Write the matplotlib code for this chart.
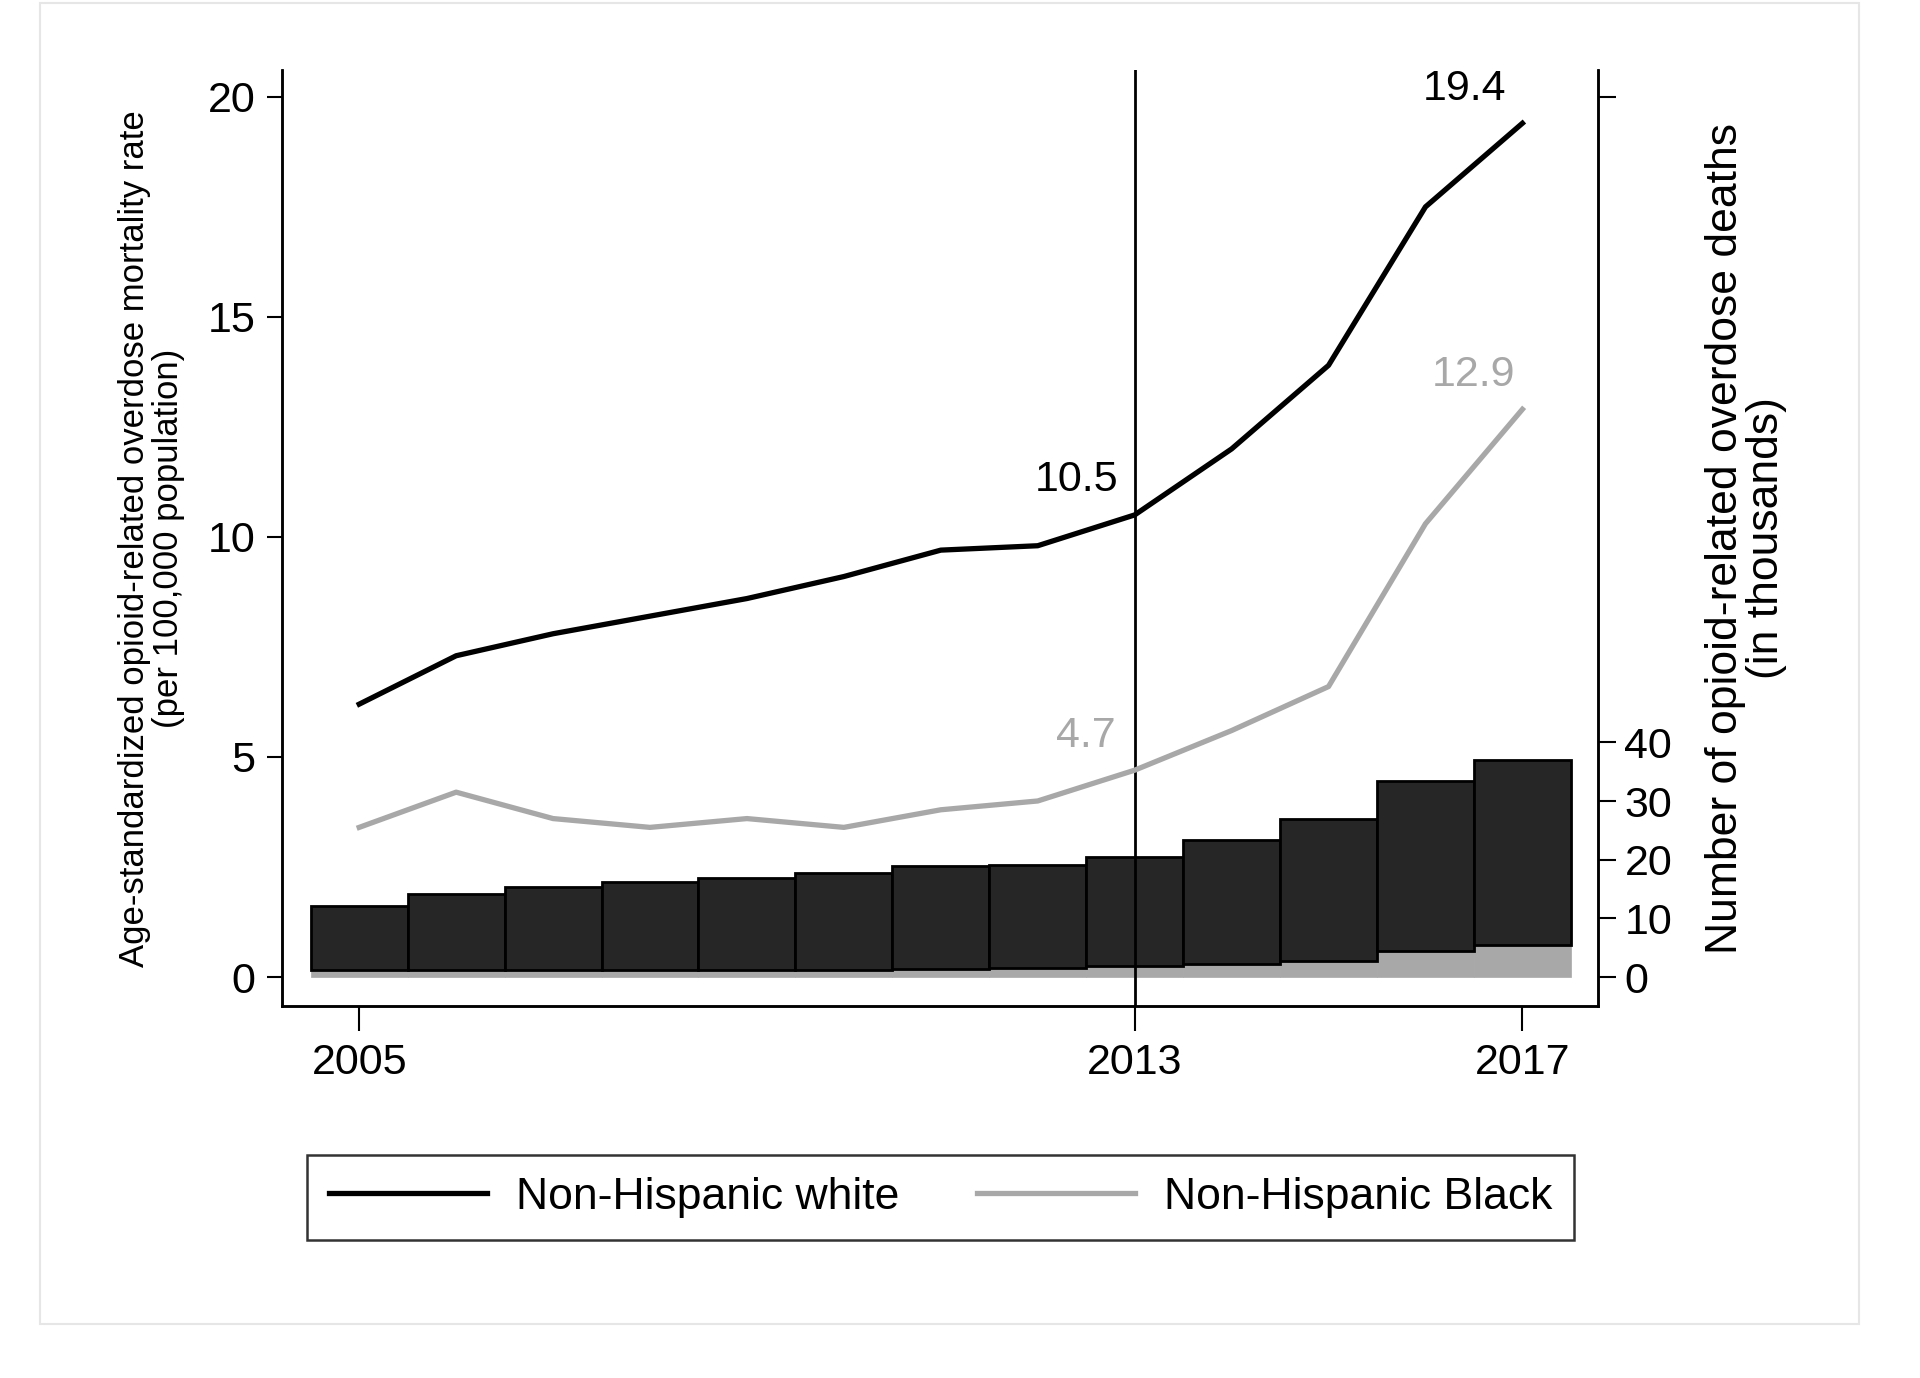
import matplotlib
matplotlib.use("Agg")
import matplotlib.pyplot as plt
from matplotlib.patches import Rectangle

# data
years        = [2005, 2006, 2007, 2008, 2009, 2010, 2011, 2012, 2013, 2014, 2015, 2016, 2017]
rate_white   = [6.2, 7.3, 7.8, 8.2, 8.6, 9.1, 9.7, 9.8, 10.5, 12.0, 13.9, 17.5, 19.4]
rate_black   = [3.4, 4.2, 3.6, 3.4, 3.6, 3.4, 3.8, 4.0, 4.7, 5.6, 6.6, 10.3, 12.9]
deaths_black = [1.2, 1.3, 1.3, 1.3, 1.3, 1.3, 1.4, 1.5, 1.9, 2.2, 2.7, 4.4, 5.5]
deaths_white = [10.9, 12.9, 14.0, 14.9, 15.6, 16.5, 17.6, 17.6, 18.6, 21.2, 24.3, 29.0, 31.5]
labels       = {"white": [(2013, 10.5), (2017, 19.4)], "black": [(2013, 4.7), (2017, 12.9)]}

xticks       = [2005, 2013, 2017]
left_ticks   = [0, 5, 10, 15, 20]
right_ticks  = [0, 10, 20, 30, 40, 150]
right_labels = ["0", "10", "20", "30", "40", ""]

BLACK = "black"
GREY  = "#a8a8a8"
BAR   = "#262626"
SANS  = ["Liberation Sans", "DejaVu Sans"]
NARROW = ["Liberation Sans Narrow", "Liberation Sans", "DejaVu Sans"]

fig = plt.figure(figsize=(19.2, 13.78), dpi=100)
fig.patches.append(Rectangle((40/1920, 1-1324/1378), (1859-40)/1920, (1324-3)/1378,
                             transform=fig.transFigure, fill=False, ec="#e6e6e6", lw=1.5))

ax = fig.add_axes([0.1467, 0.2696, 0.6856, 0.6796])
ax2 = ax.twinx()
ax.set_zorder(ax2.get_zorder() + 1)
ax.patch.set_visible(False)

# bars on the right axis
ax2.bar(years, deaths_black, width=1.0, color=GREY, edgecolor=GREY, lw=0.5)
ax2.bar(years, deaths_white, width=1.0, bottom=deaths_black, color=BAR, edgecolor=BLACK, lw=2)
ax2.set_ylim(-5.0, 154.6)
ax2.set_yticks(right_ticks)
ax2.set_yticklabels(right_labels, family=SANS, fontsize=31)
ax2.tick_params(axis="y", length=13, width=1.5, pad=6)
ax2.set_ylabel("Number of opioid-related overdose deaths\n(in thousands)",
               family=NARROW, fontsize=32, linespacing=1.0, labelpad=24)

# lines on the left axis
ax.axvline(2013, color=BLACK, lw=2)
ax.plot(years, rate_white, color=BLACK, lw=3.8, label="Non-Hispanic white", solid_joinstyle="round")
ax.plot(years, rate_black, color=GREY, lw=3.8, label="Non-Hispanic Black", solid_joinstyle="round")
for x, v in labels["white"]:
    ax.text(x - 0.6, v + 0.33, f"{v}", color=BLACK, family=NARROW, fontsize=31, ha="center", va="bottom")
for x, v in labels["black"]:
    ax.text(x - 0.5, v + 0.33, f"{v}", color=GREY, family=NARROW, fontsize=31, ha="center", va="bottom")

ax.set_xlim(2004.2, 2017.78)
ax.set_ylim(-0.67, 20.61)
ax.set_xticks(xticks)
ax.set_xticklabels([str(t) for t in xticks], family=SANS, fontsize=31)
ax.tick_params(axis="x", length=18, width=1.5, pad=8)
ax.set_yticks(left_ticks)
ax.set_yticklabels([str(t) for t in left_ticks], family=SANS, fontsize=31)
ax.tick_params(axis="y", length=11, width=1.5, pad=8)
ax.set_ylabel("Age-standardized opioid-related overdose mortality rate\n(per 100,000 population)",
              family=NARROW, fontsize=25, linespacing=1.05, labelpad=16)

for a in (ax, ax2):
    a.spines["top"].set_visible(False)
    for s in ("left", "right", "bottom"):
        a.spines[s].set_linewidth(1.8)

leg = fig.legend(loc="center", bbox_to_anchor=(0.49, 0.131), ncol=2, frameon=True, fancybox=False,
                 handlelength=3.55, columnspacing=1.75, handletextpad=0.65, borderpad=0.5,
                 prop={"family": SANS, "size": 32})
leg.get_frame().set_edgecolor(BLACK)
leg.get_frame().set_linewidth(1.8)

fig.savefig("out.png", dpi=100, facecolor="white")
